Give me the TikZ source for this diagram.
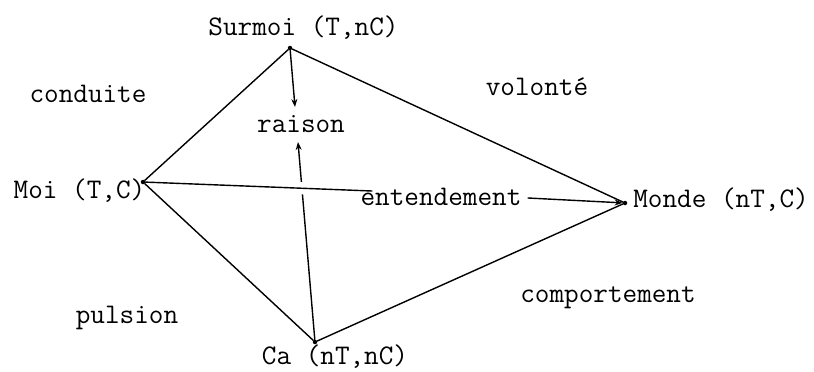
\documentclass[tikz,border=0pt]{standalone}
\usetikzlibrary{arrows.meta}
\begin{document}
\begin{tikzpicture}[x=1bp,y=-1bp,
  lab/.style={font=\fontsize{28.5}{28.5}\selectfont\ttfamily, anchor=base, inner sep=0pt},
  edge/.style={line width=1.4bp, line cap=round},
  tip/.style={-{Stealth[length=8bp,width=6bp]}},
  vdot/.style={fill=black, circle, inner sep=0pt, minimum size=4.5bp}]
\useasboundingbox (0,0) rectangle (814,371);
% vertices
\node[vdot] (S) at (290,48) {};
\node[vdot] (M) at (143,182) {};
\node[vdot] (W) at (625,203) {};
\node[vdot] (C) at (315,342) {};
% vertex labels
\node[lab] (Sl) at (303.5,35) {Surmoi (T,nC)};
\node[lab] (Ml) at (79.5,198) {Moi (T,C)};
\node[lab] (Wl) at (721,207) {Monde (nT,C)};
\node[lab] (Cl) at (335,364) {Ca (nT,nC)};
% inner labels
\node[lab] (R) at (301,132) {raison};
\node[lab] (E) at (441,205) {entendement};
% region labels
\node[lab] (cond) at (88,102) {conduite};
\node[lab] (vol) at (537,95) {volonté};
\node[lab] (comp) at (608,302) {comportement};
\node[lab] (puls) at (127,323) {pulsion};
% free ends
\coordinate (Rtop) at (295,107);
\coordinate (Rbot) at (298,142);
\coordinate (Eleft) at (372,191);
\coordinate (Eright) at (528,198);
% edges
\draw[edge] (S) -- (M);
\draw[edge] (S) -- (W);
\draw[edge] (M) -- (C);
\draw[edge] (C) -- (W);
\draw[edge,tip] (S) -- (Rtop);
\draw[edge,tip] (C) -- (Rbot);
\draw[edge, preaction={draw=white, line width=12bp, shorten <=130bp, shorten >=50bp}] (M) -- (Eleft);
\draw[edge,tip] (Eright) -- (W);
\end{tikzpicture}
\end{document}
